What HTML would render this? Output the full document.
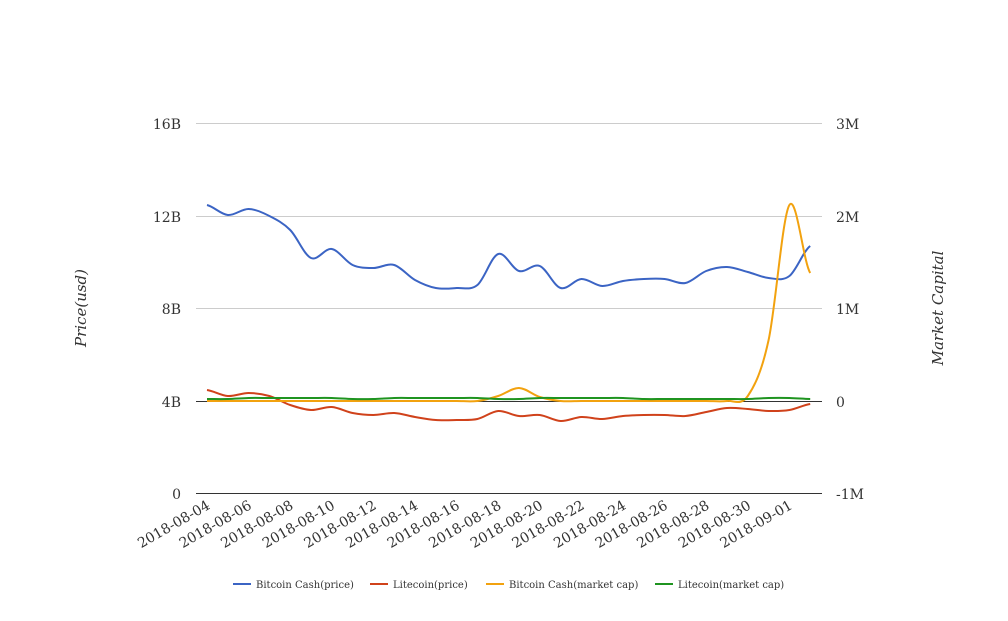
<!DOCTYPE html>
<html><head><meta charset="utf-8"><style>
body{margin:0;background:#fff;}
svg text{font-family:"DejaVu Serif","Liberation Serif",serif;}
</style></head><body>
<svg id="s" width="1008" height="616" xmlns="http://www.w3.org/2000/svg">
<g stroke="#ccc" stroke-width="1">
<line x1="196" x2="822" y1="123.5" y2="123.5"/>
<line x1="196" x2="822" y1="216.5" y2="216.5"/>
<line x1="196" x2="822" y1="308.5" y2="308.5"/>
</g>
<line x1="196" x2="822" y1="401.5" y2="401.5" stroke="#333"/>
<line x1="196" x2="822" y1="493.5" y2="493.5" stroke="#333"/>
<g font-size="14" fill="#333" text-anchor="end">
<text x="181" y="129">16B</text><text x="181" y="222">12B</text><text x="181" y="314">8B</text><text x="181" y="407">4B</text><text x="181" y="499">0</text>
</g>
<g font-size="14" fill="#333">
<text x="836" y="129">3M</text><text x="836" y="222">2M</text><text x="836" y="314">1M</text><text x="836" y="407">0</text><text x="836" y="499">-1M</text>
</g>
<text font-size="15" font-style="italic" fill="#333" transform="translate(86,308) rotate(-90)" text-anchor="middle">Price(usd)</text>
<text font-size="15" font-style="italic" fill="#333" transform="translate(943,308) rotate(-90)" text-anchor="middle">Market Capital</text>
<g id="xl" font-size="14" fill="#333" text-anchor="end"></g>
<g id="lines" fill="none" stroke-width="2"></g>
<g font-size="10" fill="#333">
<line x1="233" x2="251" y1="584" y2="584" stroke="#3b64c4" stroke-width="2"/><text x="256" y="588">Bitcoin Cash(price)</text>
<line x1="370" x2="388" y1="584" y2="584" stroke="#d0421b" stroke-width="2"/><text x="393" y="588">Litecoin(price)</text>
<line x1="486" x2="504" y1="584" y2="584" stroke="#f2a20f" stroke-width="2"/><text x="509" y="588">Bitcoin Cash(market cap)</text>
<line x1="655" x2="673" y1="584" y2="584" stroke="#1f9420" stroke-width="2"/><text x="678" y="588">Litecoin(market cap)</text>
</g>
</svg>
<script>
var x0=207,dx=20.8,ns="http://www.w3.org/2000/svg";
var xl=document.getElementById('xl');
for(var i=0;i<15;i++){var d=4+2*i,m=8;if(d>31){d-=31;m=9;}
var t=document.createElementNS(ns,'text');var x=x0+2*i*dx+4;
t.setAttribute('transform','translate('+x+',508) rotate(-30)');
t.textContent='2018-0'+m+'-'+(d<10?'0'+d:d);xl.appendChild(t);}
var S={
"#3b64c4":[205,215,209,216,230,258,249,265,268,265,280,288,288,285,254,271,266,288,279,286,281,279,279,283,271,267,272,278,276,246],
"#d0421b":[390,396,393,396,405,410,407,413,415,413,417,420,420,419,411,416,415,421,417,419,416,415,415,416,412,408,409,411,410,404],
"#f2a20f":[401,401,401,401,401,401,401,401,401,401,401,401,401,401,396,388,397,401,401,401,401,401,401,401,401,401,396,340,205,273],
"#1f9420":[399,399,398,398,398,398,398,399,399,398,398,398,398,398,399,399,398,398,398,398,398,399,399,399,399,399,399,398,398,399]};
var g=document.getElementById('lines');
for(var c in S){var y=S[c],p='M'+x0+','+y[0];
for(var i=0;i<y.length-1;i++){var xa=x0+i*dx,xb=xa+dx;
var y0=y[Math.max(i-1,0)],y3=y[Math.min(i+2,y.length-1)];
var c1y=y[i]+(y[i+1]-y0)/6,c2y=y[i+1]-(y3-y[i])/6;
p+=' C'+(xa+dx/3)+','+c1y+' '+(xb-dx/3)+','+c2y+' '+xb+','+y[i+1];}
var e=document.createElementNS(ns,'path');e.setAttribute('d',p);e.setAttribute('stroke',c);g.appendChild(e);}
</script>
</body></html>
